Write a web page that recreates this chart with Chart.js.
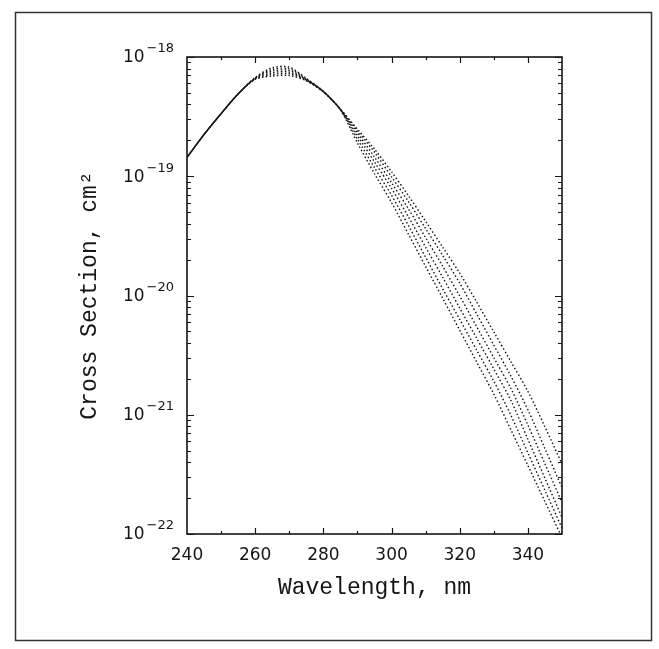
<!DOCTYPE html>
<html>
<head>
<meta charset="utf-8">
<script src="https://cdn.jsdelivr.net/npm/chart.js@4.4.0/dist/chart.umd.min.js"></script>
<style>
  html, body { margin: 0; padding: 0; background: #fff; }
  #wrap { width: 659px; height: 649px; }
</style>
</head>
<body>
<div id="wrap"><canvas id="chart" width="659" height="649"></canvas></div>
<script>
// wavelength grid (nm) shared by every curve
const wavelengths = [240, 245, 250, 255, 260, 265, 270, 275, 280, 285, 290, 295,
    300, 305, 310, 315, 320, 325, 330, 335, 340, 345, 350];

// cross sections (cm^2), one array per curve
const curve1 = [1.44e-19, 2.24e-19, 3.35e-19, 4.90e-19, 6.73e-19, 8.13e-19, 8.22e-19, 6.61e-19, 5.16e-19, 3.60e-19, 1.90e-19, 1.05e-19,
    6.01e-20, 3.25e-20, 1.75e-20, 9.48e-21, 5.12e-21, 2.76e-21, 1.49e-21, 7.50e-22, 3.75e-22, 1.87e-22, 9.33e-23];
const curve2 = [1.44e-19, 2.24e-19, 3.35e-19, 4.90e-19, 6.68e-19, 7.87e-19, 7.96e-19, 6.53e-19, 5.15e-19, 3.61e-19, 2.05e-19, 1.18e-19,
    6.93e-20, 3.84e-20, 2.09e-20, 1.14e-20, 6.30e-21, 3.47e-21, 1.91e-21, 9.91e-22, 4.79e-22, 2.32e-22, 1.12e-22];
const curve3 = [1.44e-19, 2.24e-19, 3.35e-19, 4.90e-19, 6.64e-19, 7.62e-19, 7.71e-19, 6.46e-19, 5.13e-19, 3.63e-19, 2.19e-19, 1.32e-19,
    7.91e-20, 4.55e-20, 2.54e-20, 1.42e-20, 7.85e-21, 4.36e-21, 2.42e-21, 1.32e-21, 6.22e-22, 2.93e-22, 1.38e-22];
const curve4 = [1.44e-19, 2.24e-19, 3.35e-19, 4.90e-19, 6.58e-19, 7.38e-19, 7.46e-19, 6.41e-19, 5.12e-19, 3.64e-19, 2.30e-19, 1.45e-19,
    8.83e-20, 5.30e-20, 3.05e-20, 1.76e-20, 9.91e-21, 5.46e-21, 3.01e-21, 1.66e-21, 8.20e-22, 3.88e-22, 1.84e-22];
const curve5 = [1.44e-19, 2.24e-19, 3.35e-19, 4.90e-19, 6.53e-19, 7.14e-19, 7.23e-19, 6.35e-19, 5.11e-19, 3.65e-19, 2.40e-19, 1.59e-19,
    9.89e-20, 6.11e-20, 3.64e-20, 2.17e-20, 1.27e-20, 6.98e-21, 3.84e-21, 2.11e-21, 1.10e-21, 5.20e-22, 2.45e-22];
const curve6 = [1.44e-19, 2.24e-19, 3.35e-19, 4.90e-19, 6.49e-19, 6.92e-19, 7.00e-19, 6.31e-19, 5.10e-19, 3.66e-19, 2.48e-19, 1.69e-19,
    1.09e-19, 6.85e-20, 4.19e-20, 2.54e-20, 1.54e-20, 8.79e-21, 4.95e-21, 2.79e-21, 1.57e-21, 7.91e-22, 3.86e-22];

const curves = [curve1, curve2, curve3, curve4, curve5, curve6];

// axis ticks
const xTickLabels = [240, 260, 280, 300, 320, 340];
const yDecades = [-22, -21, -20, -19, -18];

const ink = '#151515';

// frame, inward ticks and 10^n labels
const framePlugin = {
    id: 'frame',
    afterDraw(chart) {
        const { ctx, chartArea: a } = chart;
        const xs = chart.scales.x;
        const ys = chart.scales.y;
        ctx.save();
        ctx.strokeStyle = ink;
        ctx.lineWidth = 1.6;
        ctx.strokeRect(a.left, a.top, a.right - a.left, a.bottom - a.top);

        // y ticks, left and right, pointing inward
        ctx.lineWidth = 1.2;
        ctx.beginPath();
        yDecades.forEach(e => {
            for (let m = 1; m <= 9; m++) {
                const v = m * Math.pow(10, e);
                if (v > 1.0001e-18) break;
                const y = Math.round(ys.getPixelForValue(v)) + 0.5;
                const len = m === 1 ? 7 : 4;
                ctx.moveTo(a.left, y); ctx.lineTo(a.left + len, y);
                ctx.moveTo(a.right, y); ctx.lineTo(a.right - len, y);
            }
        });
        // x ticks, top and bottom
        for (let w = 250; w < 350; w += 10) {
            const x = Math.round(xs.getPixelForValue(w)) + 0.5;
            const len = w % 20 === 0 ? 6 : 3;
            ctx.moveTo(x, a.bottom); ctx.lineTo(x, a.bottom - len);
            ctx.moveTo(x, a.top); ctx.lineTo(x, a.top + len);
        }
        ctx.stroke();

        // decade labels with raised exponent
        ctx.fillStyle = ink;
        yDecades.forEach(e => {
            const y = ys.getPixelForValue(Math.pow(10, e));
            const expText = '\u2212' + String(-e);
            ctx.font = '13px "DejaVu Sans"';
            const expW = ctx.measureText(expText).width;
            const expLeft = a.left - 13 - expW;
            ctx.textAlign = 'left';
            ctx.textBaseline = 'middle';
            ctx.fillText(expText, expLeft, y - 8);
            ctx.font = '17px "DejaVu Sans"';
            ctx.textAlign = 'right';
            ctx.fillText('10', expLeft - 2, y + 1);
        });

        // outer border of the figure
        ctx.strokeStyle = '#333';
        ctx.lineWidth = 1.5;
        ctx.strokeRect(15.5, 12.5, 636, 628);
        ctx.restore();
    }
};

const ctx = document.getElementById('chart').getContext('2d');

new Chart(ctx, {
    type: 'line',
    data: {
        datasets: curves.map((c, i) => ({
            label: 'curve ' + (i + 1),
            data: wavelengths.map((w, j) => ({ x: w, y: c[j] })),
            borderColor: ink,
            borderWidth: 1.4,
            borderDash: [1.5, 2.3],
            borderDashOffset: i * 0.6,
            pointRadius: 0,
            tension: 0.3,
            fill: false
        }))
    },
    options: {
        responsive: false,
        animation: false,
        devicePixelRatio: 1,
        layout: {
            padding: { left: 10, right: 97, top: 57, bottom: 10 }
        },
        plugins: {
            legend: { display: false },
            tooltip: { enabled: false }
        },
        scales: {
            x: {
                type: 'linear',
                min: 240,
                max: 350,
                grid: { display: false, drawTicks: false },
                border: { display: false },
                afterBuildTicks: s => { s.ticks = xTickLabels.map(v => ({ value: v })); },
                ticks: {
                    autoSkip: false,
                    maxRotation: 0,
                    padding: 11,
                    color: ink,
                    font: { family: 'DejaVu Sans', size: 17 }
                },
                title: {
                    display: true,
                    text: 'Wavelength, nm',
                    color: ink,
                    font: { family: 'Liberation Mono', size: 23 },
                    padding: { top: 0, bottom: 37 }
                },
                afterFit: s => { s.height = 105; }
            },
            y: {
                type: 'logarithmic',
                min: 1e-22,
                max: 1e-18,
                grid: { display: false, drawTicks: false },
                border: { display: false },
                ticks: { callback: () => '' },
                title: {
                    display: true,
                    text: 'Cross Section, cm\u00b2',
                    color: ink,
                    font: { family: 'Liberation Mono', size: 23 },
                    padding: { top: 66, bottom: 0 }
                },
                afterFit: s => { s.width = 177; }
            }
        }
    },
    plugins: [framePlugin]
});
</script>
</body>
</html>
